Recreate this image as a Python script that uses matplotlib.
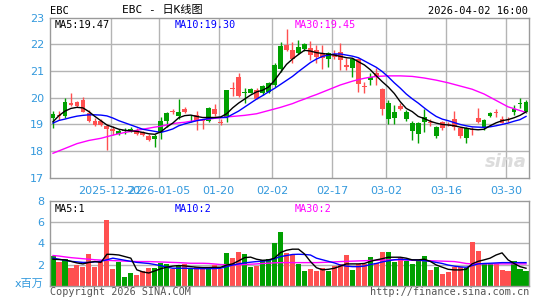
import numpy as np
import matplotlib
matplotlib.use('Agg')
import matplotlib.pyplot as plt

# --- 数据 ---
opens = [19.39, 19.33, 19.85, 19.74, 19.68, 19.48, 19.14, 18.98, 18.99, 18.83,
         18.76, 18.76, 18.77, 18.83, 18.66, 18.60, 18.42, 18.55, 19.14, 19.41,
         19.45, 19.47, 19.47, 19.29, 19.16, 19.14, 19.60, 19.39, 19.05, 20.29,
         20.31, 20.06, 20.20, 20.31, 19.97, 20.44, 20.54, 21.24, 21.94, 21.79,
         21.44, 21.91, 22.00, 21.60, 21.54, 21.48, 21.66, 21.51, 21.41, 21.14,
         21.44, 20.50, 20.39, 20.79, 20.79, 19.57, 19.79, 19.47, 19.59, 19.47,
         19.04, 19.04, 19.29, 19.06, 18.91, 18.85, 18.98, 18.89, 18.56, 18.85,
         18.79, 19.10, 19.16, 19.41, 19.44, 19.06, 19.18, 19.58, 19.80, 19.85]
highs = [19.49, 19.51, 19.99, 20.19, 19.87, 20.01, 19.54, 19.24, 19.20, 19.01,
         18.95, 18.83, 18.86, 18.89, 18.85, 18.76, 18.64, 18.64, 19.26, 19.45,
         19.56, 19.97, 19.64, 19.35, 19.50, 19.20, 19.64, 19.76, 19.20, 20.29,
         20.60, 20.94, 20.35, 20.36, 20.35, 20.47, 20.60, 21.29, 22.10, 22.58,
         22.10, 22.16, 22.06, 22.13, 21.98, 21.98, 21.73, 21.79, 22.04, 21.48,
         21.48, 21.48, 20.60, 20.94, 21.10, 20.35, 19.91, 19.72, 19.79, 19.54,
         19.14, 19.10, 19.58, 19.19, 18.94, 19.13, 19.08, 19.50, 18.89, 18.89,
         18.89, 19.60, 19.19, 19.45, 19.58, 19.31, 19.26, 19.73, 19.98, 19.91]
lows = [18.85, 19.16, 19.24, 19.70, 19.64, 19.45, 19.08, 18.94, 18.94, 18.03,
        18.61, 18.61, 18.66, 18.70, 18.62, 18.56, 18.39, 18.16, 18.45, 18.90,
        19.39, 19.22, 19.44, 19.10, 18.81, 18.82, 19.10, 19.31, 18.97, 19.10,
        20.05, 20.04, 19.80, 20.16, 19.94, 20.12, 20.16, 20.41, 20.97, 21.76,
        21.30, 21.64, 21.76, 21.41, 21.29, 21.06, 21.14, 21.44, 21.04, 21.04,
        20.79, 20.23, 20.16, 20.48, 20.48, 19.35, 19.00, 19.00, 19.54, 19.14,
        18.41, 18.31, 18.73, 18.94, 18.51, 18.81, 18.93, 18.81, 18.51, 18.29,
        18.60, 19.04, 18.81, 19.29, 19.29, 19.04, 19.10, 19.35, 19.60, 19.41]
closes = [19.24, 19.36, 19.33, 19.81, 19.85, 19.93, 19.43, 19.14, 19.11, 18.93,
          18.83, 18.64, 18.75, 18.74, 18.79, 18.70, 18.58, 18.44, 18.70, 19.11,
          19.51, 19.31, 19.57, 19.26, 19.37, 19.18, 19.14, 19.57, 19.10, 19.26,
          20.36, 20.76, 20.17, 20.19, 20.29, 20.16, 20.22, 20.47, 21.06, 21.99,
          21.79, 21.69, 21.83, 21.85, 21.79, 21.66, 21.44, 21.64, 21.70, 21.24,
          21.10, 21.44, 20.43, 20.66, 20.91, 20.31, 19.19, 19.25, 19.69, 19.19,
          18.76, 18.66, 19.08, 19.10, 18.58, 19.08, 19.02, 19.19, 18.85, 18.48,
          18.83, 19.23, 18.89, 19.31, 19.48, 19.19, 19.22, 19.48, 19.78, 19.48]

ma5 = [19.10, 19.33, 19.50, 19.60, 19.64, 19.62, 19.48, 19.30, 19.14, 18.98,
       18.90, 18.82, 18.78, 18.76, 18.74, 18.70, 18.65, 18.63, 18.72, 18.90,
       19.05, 19.25, 19.33, 19.35, 19.30, 19.26, 19.26, 19.26, 19.28, 19.40,
       19.62, 19.80, 19.95, 20.10, 20.22, 20.28, 20.40, 20.65, 20.95, 21.25,
       21.45, 21.62, 21.78, 21.75, 21.69, 21.66, 21.63, 21.60, 21.55, 21.50,
       21.48, 21.35, 21.23, 21.05, 20.82, 20.60, 20.40, 20.16, 19.85, 19.60,
       19.48, 19.30, 19.22, 19.12, 19.05, 19.00, 18.98, 18.95, 18.90, 18.86,
       18.82, 18.80, 18.82, 18.95, 19.06, 19.14, 19.18, 19.25, 19.34, 19.47]
ma10 = [19.05, 19.15, 19.20, 19.26, 19.31, 19.34, 19.36, 19.36, 19.35, 19.32,
        19.24, 19.14, 19.06, 18.98, 18.90, 18.82, 18.78, 18.74, 18.70, 18.76,
        18.83, 18.95, 19.02, 19.08, 19.14, 19.18, 19.22, 19.25, 19.26, 19.26,
        19.38, 19.50, 19.65, 19.80, 19.95, 20.08, 20.22, 20.35, 20.50, 20.65,
        20.80, 20.98, 21.15, 21.32, 21.45, 21.55, 21.60, 21.64, 21.64, 21.60,
        21.56, 21.50, 21.38, 21.26, 21.14, 20.98, 20.78, 20.56, 20.36, 20.14,
        19.96, 19.80, 19.62, 19.45, 19.30, 19.20, 19.14, 19.07, 19.00, 18.95,
        18.91, 18.90, 18.89, 18.91, 18.95, 19.00, 19.05, 19.12, 19.18, 19.30]
ma30 = [17.92, 18.01, 18.10, 18.19, 18.28, 18.34, 18.40, 18.44, 18.48, 18.54,
        18.60, 18.65, 18.70, 18.74, 18.78, 18.82, 18.86, 18.90, 18.93, 18.98,
        19.03, 19.06, 19.08, 19.12, 19.15, 19.18, 19.20, 19.23, 19.25, 19.28,
        19.30, 19.32, 19.34, 19.37, 19.40, 19.46, 19.52, 19.58, 19.64, 19.71,
        19.78, 19.87, 19.95, 20.04, 20.12, 20.21, 20.30, 20.39, 20.48, 20.55,
        20.62, 20.68, 20.73, 20.77, 20.80, 20.81, 20.82, 20.82, 20.82, 20.81,
        20.80, 20.77, 20.74, 20.70, 20.66, 20.61, 20.56, 20.50, 20.44, 20.38,
        20.32, 20.23, 20.14, 20.02, 19.90, 19.78, 19.66, 19.59, 19.52, 19.45]

volumes = [2.85, 2.28, 2.53, 1.71, 1.96, 1.80, 3.00, 1.80, 2.28, 6.23,
           1.58, 2.28, 0.85, 1.23, 1.01, 1.39, 1.71, 1.71, 2.18, 2.06,
           1.58, 1.96, 2.03, 1.71, 1.74, 1.58, 1.74, 1.96, 1.55, 3.13,
           2.63, 3.23, 3.00, 1.80, 1.90, 2.44, 2.53, 4.08, 5.03, 3.13,
           2.91, 2.06, 1.42, 1.58, 1.42, 1.71, 1.42, 1.87, 2.06, 2.91,
           1.49, 2.06, 2.06, 2.72, 2.18, 3.23, 3.23, 2.28, 2.59, 2.34,
           2.06, 2.44, 2.82, 1.49, 1.77, 1.11, 1.33, 1.74, 1.80, 1.71,
           4.15, 3.29, 2.06, 2.06, 2.06, 1.49, 1.42, 2.34, 1.58, 1.42]
vol_ma5 = [2.50, 2.47, 2.44, 2.30, 2.15, 2.06, 2.20, 2.28, 2.20, 2.97,
           2.95, 2.90, 2.75, 2.60, 1.50, 1.30, 1.20, 1.40, 1.60, 1.75,
           1.85, 1.90, 1.87, 1.80, 1.75, 1.72, 1.72, 1.74, 1.74, 1.95,
           2.06, 2.35, 2.65, 2.70, 2.50, 2.40, 2.44, 2.60, 3.13, 3.35,
           3.45, 3.45, 3.00, 2.28, 1.70, 1.50, 1.55, 1.65, 1.85, 2.06,
           2.06, 2.06, 2.10, 2.30, 2.44, 2.55, 2.69, 2.69, 2.69, 2.60,
           2.44, 2.44, 2.50, 2.30, 1.96, 1.75, 1.55, 1.49, 1.49, 1.55,
           2.06, 2.30, 2.44, 2.60, 2.90, 3.10, 2.44, 2.10, 1.80, 1.65]
vol_ma10 = [2.60, 2.50, 2.40, 2.30, 2.25, 2.20, 2.20, 2.25, 2.30, 2.45,
            2.60, 2.50, 2.40, 2.30, 2.20, 2.15, 2.10, 2.00, 1.90, 1.75,
            1.65, 1.65, 1.65, 1.63, 1.61, 1.61, 1.61, 1.62, 1.65, 1.80,
            1.95, 2.06, 2.15, 2.22, 2.28, 2.32, 2.37, 2.55, 2.75, 2.85,
            2.95, 2.97, 2.95, 2.90, 2.60, 2.45, 2.30, 2.15, 1.95, 1.85,
            1.80, 1.80, 1.85, 2.00, 2.10, 2.25, 2.35, 2.45, 2.50, 2.47,
            2.44, 2.42, 2.37, 2.30, 2.20, 2.10, 1.95, 1.85, 1.78, 1.74,
            1.90, 2.06, 2.10, 2.12, 2.15, 2.18, 2.18, 2.18, 2.18, 2.18]
vol_ma30 = [2.85, 2.80, 2.72, 2.65, 2.60, 2.55, 2.50, 2.45, 2.42, 2.40,
            2.37, 2.35, 2.32, 2.30, 2.28, 2.28, 2.28, 2.26, 2.24, 2.22,
            2.20, 2.18, 2.15, 2.12, 2.12, 2.12, 2.10, 2.05, 2.00, 1.97,
            1.96, 1.98, 2.00, 2.03, 2.06, 2.10, 2.13, 2.16, 2.18, 2.18,
            2.18, 2.18, 2.18, 2.18, 2.18, 2.20, 2.22, 2.25, 2.28, 2.30,
            2.32, 2.34, 2.36, 2.38, 2.40, 2.42, 2.44, 2.44, 2.44, 2.42,
            2.40, 2.38, 2.37, 2.36, 2.34, 2.32, 2.30, 2.28, 2.20, 2.10,
            2.06, 2.06, 2.06, 2.06, 2.06, 2.06, 2.06, 2.06, 2.06, 2.06]

date_idx = [10, 18, 28, 37, 47, 56, 66, 76]
date_labels = ['2025-12-22', '2026-01-05', '01-20', '02-02', '02-17', '03-02', '03-16', '03-30']
price_ticks = [17, 18, 19, 20, 21, 22, 23]
vol_ticks = [2, 4, 6, 8]

# --- 样式 ---
RED = '#ff5050'
GREEN = '#00a000'
GRID = '#b4b4b4'
FRAME = '#9a9a9a'
TICK = '#3399dd'
MONO = 'DejaVu Sans Mono'

W, H = 545, 300
fig = plt.figure(figsize=(W / 100, H / 100), dpi=100)
fig.patch.set_facecolor('white')


def frac(left, top, right, bottom):
    return [left / W, 1 - bottom / H, (right - left) / W, (bottom - top) / H]


ax = fig.add_axes(frac(50, 17.7, 529, 177.8))
axv = fig.add_axes(frac(50, 201, 529, 285.7))

n = len(closes)
x = np.arange(n)
o = np.array(opens)
c = np.array(closes)
up = c >= o
colors = np.where(up, RED, GREEN)

for a in (ax, axv):
    a.set_xlim(-0.5, n - 0.5)
    for s in a.spines.values():
        s.set_color(FRAME)
        s.set_linewidth(1.0)
    a.tick_params(length=0, colors=TICK, labelsize=8)
    a.set_xticks([])

# 主图
ax.set_ylim(17, 23)
ax.set_yticks(price_ticks)
ax.set_yticklabels([str(t) for t in price_ticks])
ax.tick_params(axis='y', pad=4)
for t in price_ticks[1:-1]:
    ax.axhline(t, color=GRID, lw=1, zorder=0)
for i in date_idx:
    ax.axvline(i - 0.35, color=GRID, lw=1, zorder=0)

ax.vlines(x, lows, highs, colors=colors, lw=1, zorder=2)
body = np.maximum(np.abs(c - o), 0.03)
ax.bar(x, body, bottom=np.minimum(o, c), width=0.8, color=colors, lw=0, zorder=3)

ax.plot(x, ma30, color='#ff00ff', lw=1, zorder=4)
ax.plot(x, ma10, color='#0000ff', lw=1, zorder=4)
ax.plot(x, ma5, color='black', lw=1, zorder=4)

for i, lab in zip(date_idx, date_labels):
    ax.text(i - 0.35, 16.7, lab, ha='center', va='top', color=TICK, fontsize=8)

ax.text(0.01, 0.985, 'MA5:%.2f' % ma5[-1], transform=ax.transAxes, ha='left', va='top',
        family=MONO, fontsize=7.3, color='black')
ax.text(0.26, 0.985, 'MA10:%.2f' % ma10[-1], transform=ax.transAxes, ha='left', va='top',
        family=MONO, fontsize=7.3, color='#0000ff')
ax.text(0.51, 0.985, 'MA30:%.2f' % ma30[-1], transform=ax.transAxes, ha='left', va='top',
        family=MONO, fontsize=7.3, color='#ff00ff')
ax.text(0.995, 0.04, 'sina', transform=ax.transAxes, ha='right', va='bottom',
        fontsize=13, fontweight='bold', style='italic', color='#dcdcdc', zorder=1)

# 成交量
axv.set_ylim(0, 8)
axv.set_yticks(vol_ticks)
axv.set_yticklabels([str(t) for t in vol_ticks])
axv.tick_params(axis='y', pad=4)
for t in vol_ticks[:-1]:
    axv.axhline(t, color=GRID, lw=1, zorder=0)
axv.bar(x, volumes, width=0.85, color=colors, lw=0, zorder=2)
axv.plot(x, vol_ma30, color='#ff00ff', lw=1, zorder=3)
axv.plot(x, vol_ma10, color='#0000ff', lw=1, zorder=3)
axv.plot(x, vol_ma5, color='black', lw=1, zorder=3)

axv.text(0.01, 0.97, 'MA5:%d' % vol_ma5[-1], transform=axv.transAxes, ha='left', va='top',
         family=MONO, fontsize=7.3, color='black')
axv.text(0.26, 0.97, 'MA10:%d' % vol_ma10[-1], transform=axv.transAxes, ha='left', va='top',
         family=MONO, fontsize=7.3, color='#0000ff')
axv.text(0.51, 0.97, 'MA30:%d' % vol_ma30[-1], transform=axv.transAxes, ha='left', va='top',
         family=MONO, fontsize=7.3, color='#ff00ff')

# 页眉页脚文字
fig.text(50 / W, 1 - 11 / H, 'EBC', ha='left', va='center', family=MONO, fontsize=7.5)
fig.text(122 / W, 1 - 10 / H, 'EBC - 日K线图', ha='left', va='center',
         family=[MONO, 'Noto Sans CJK SC'], fontsize=8)
fig.text(528 / W, 1 - 11 / H, '2026-04-02 16:00', ha='right', va='center', family=MONO, fontsize=7.5)
fig.text(44 / W, 1 - 284 / H, 'x百万', ha='right', va='center',
         family=['DejaVu Sans', 'Noto Sans CJK SC'], fontsize=8, color=TICK)
fig.text(50 / W, 1 - 292 / H, 'Copyright 2026 SINA.COM', ha='left', va='center',
         family=MONO, fontsize=7.3, color='#555555')
fig.text(529 / W, 1 - 292 / H, 'http://finance.sina.com.cn', ha='right', va='center',
         family=MONO, fontsize=7.3, color='#555555')

fig.savefig('out.png', dpi=100)
